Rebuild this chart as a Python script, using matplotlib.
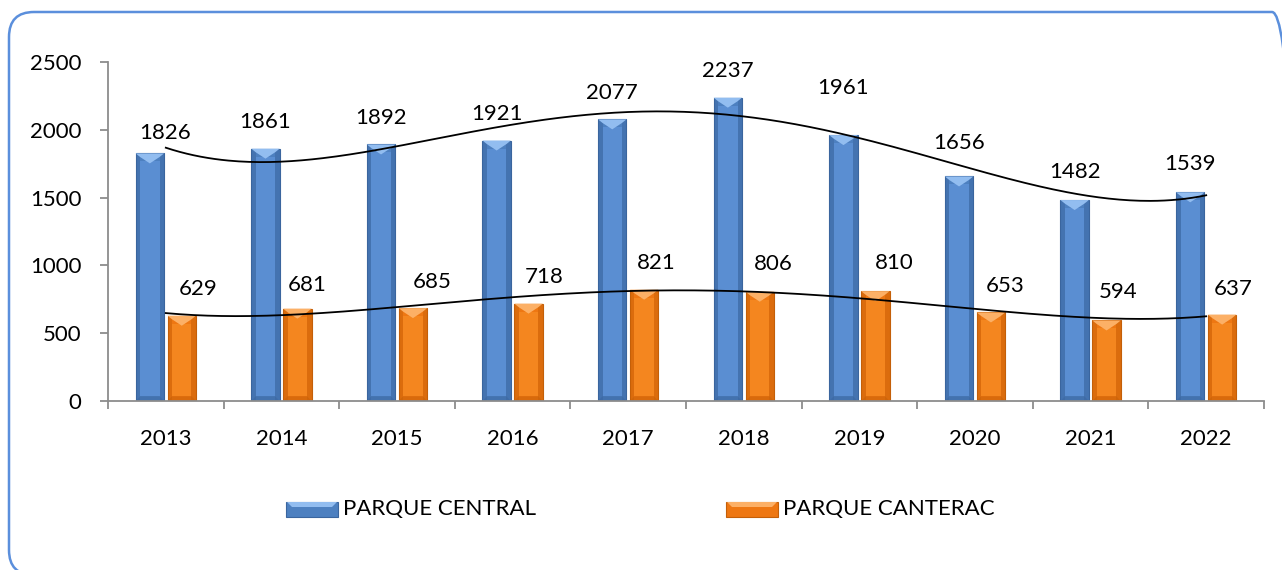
'''bar chart with polynomial trend lines, parque central vs parque canterac
'''
import numpy as np
import matplotlib
matplotlib.use('Agg')
import matplotlib.pyplot as plt
from matplotlib.patches import Rectangle, Polygon, FancyBboxPatch
from matplotlib.transforms import IdentityTransform

years = ['2013', '2014', '2015', '2016', '2017', '2018', '2019', '2020', '2021', '2022']
central = [1826, 1861, 1892, 1921, 2077, 2237, 1961, 1656, 1482, 1539]
canterac = [629, 681, 685, 718, 821, 806, 810, 653, 594, 637]
series_names = ['PARQUE CENTRAL', 'PARQUE CANTERAC']

# label offsets in pixels (dx, dy above bar top)
central_dx = [15, 0, 0, 0, 0, 0, 0, 0, 0, 0]
central_dy = [20, 27, 26, 27, 26, 27, 47, 33, 28, 28]
canterac_dx = [16, 10, 19, 16, 12, 14, 19, 14, 12, 11]
canterac_dy = [27, 24, 26, 27, 27, 28, 28, 26, 28, 26]

FONT = 'Lato'
plt.rcParams['font.family'] = [FONT, 'DejaVu Sans']

W, H = 1282, 570
fig = plt.figure(figsize=(W / 100, H / 100), dpi=100)
ax = fig.add_axes([108 / W, 1 - 401 / H, (1264 - 108) / W, (401 - 62) / H])

n = len(years)
x = np.arange(n)
bw = 0.246
off = 0.138
ymax = 2500
px_x = (1264 - 108) / n          # pixels per category
px_y = (401 - 62) / ymax         # pixels per unit

styles = [
    dict(main='#4d80c0', side='#3a659e', top='#92bdf0', mid='#5a8ed2'),
    dict(main='#ee7712', side='#c45f08', top='#fcb066', mid='#f4861f'),
]


def bevel_bar(ax, xc, h, st):
    x0, x1 = xc - bw / 2, xc + bw / 2
    bx = 4.5 / px_x
    by = 8 / px_y
    ax.add_patch(Rectangle((x0, 0), bw, h, facecolor=st['main'],
                           edgecolor=st['side'], linewidth=0.8, zorder=2))
    ax.add_patch(Rectangle((x0 + bx, by * 0.6), bw - 2 * bx, max(h - by * 1.6, 0),
                           facecolor=st['mid'], edgecolor='none', zorder=2.05))
    ax.add_patch(Rectangle((x0, 0), bx, h, facecolor=st['side'],
                           edgecolor='none', alpha=0.45, zorder=2.1))
    ax.add_patch(Rectangle((x1 - bx, 0), bx, h, facecolor=st['side'],
                           edgecolor='none', alpha=0.45, zorder=2.1))
    ax.add_patch(Polygon([(x0, h), (x1, h), (x1 - bx, h - by * 0.45),
                          (xc, h - by * 1.25), (x0 + bx, h - by * 0.45)],
                         closed=True, facecolor=st['top'], edgecolor='none', zorder=2.2))
    ax.add_patch(Polygon([(x0, 0), (x1, 0), (x1 - bx, by * 0.6), (x0 + bx, by * 0.6)],
                         closed=True, facecolor=st['side'], edgecolor='none',
                         alpha=0.5, zorder=2.2))


for i in range(n):
    bevel_bar(ax, x[i] - off, central[i], styles[0])
    bevel_bar(ax, x[i] + off, canterac[i], styles[1])

# polynomial trend lines (order 4), first to last category
xs = np.linspace(0, n - 1, 300)
for vals in (central, canterac):
    coef = np.polyfit(x + 1, vals, 4)
    ax.plot(xs, np.polyval(coef, xs + 1), color='black', lw=1.3, zorder=3)

for i in range(n):
    ax.annotate(str(central[i]), (x[i] - off, central[i]),
                xytext=(central_dx[i], central_dy[i]), textcoords='offset pixels',
                ha='center', va='center', fontsize=16, color='black', zorder=4)
    ax.annotate(str(canterac[i]), (x[i] + off, canterac[i]),
                xytext=(canterac_dx[i], canterac_dy[i]), textcoords='offset pixels',
                ha='center', va='center', fontsize=16, color='black', zorder=4)

ax.set_xlim(-0.5, n - 0.5)
ax.set_ylim(0, ymax)
ax.set_yticks(range(0, ymax + 1, 500))
ax.set_xticks(np.arange(-0.5, n, 1.0))
ax.set_xticklabels([])
ax.set_xticks(x, minor=True)
ax.set_xticklabels(years, minor=True)

gray = '#8c8c8c'
for s in ('top', 'right'):
    ax.spines[s].set_visible(False)
for s in ('left', 'bottom'):
    ax.spines[s].set_color(gray)
    ax.spines[s].set_linewidth(1.3)
ax.tick_params(axis='y', length=6, width=1.3, color=gray, pad=13, labelsize=16)
ax.tick_params(axis='x', which='major', length=6, width=1.3, color=gray)
ax.tick_params(axis='x', which='minor', length=0, pad=20, labelsize=16)

# legend drawn manually
leg_y = 1 - 509 / H
for (x0, name), st in zip([(286, series_names[0]), (726, series_names[1])], styles):
    fig.patches.append(Rectangle((x0 / W, leg_y - 7.5 / H), 52 / W, 15 / H,
                                 transform=fig.transFigure, facecolor=st['main'],
                                 edgecolor=st['side'], linewidth=0.8))
    fig.patches.append(Polygon([((x0 + 1) / W, leg_y + 7 / H), ((x0 + 51) / W, leg_y + 7 / H),
                                ((x0 + 46) / W, leg_y + 2 / H), ((x0 + 6) / W, leg_y + 2 / H)],
                               closed=True, transform=fig.transFigure,
                               facecolor=st['top'], edgecolor='none'))
    fig.text((x0 + 57) / W, leg_y, name, ha='left', va='center', fontsize=16)

# rounded outer border
fig.patches.append(FancyBboxPatch((9, -5), 1288, 563,
                                  boxstyle='round,pad=0,rounding_size=25',
                                  transform=IdentityTransform(), fill=False,
                                  edgecolor='#5b8fdc', linewidth=1.8))

fig.savefig('out.png', dpi=100)
